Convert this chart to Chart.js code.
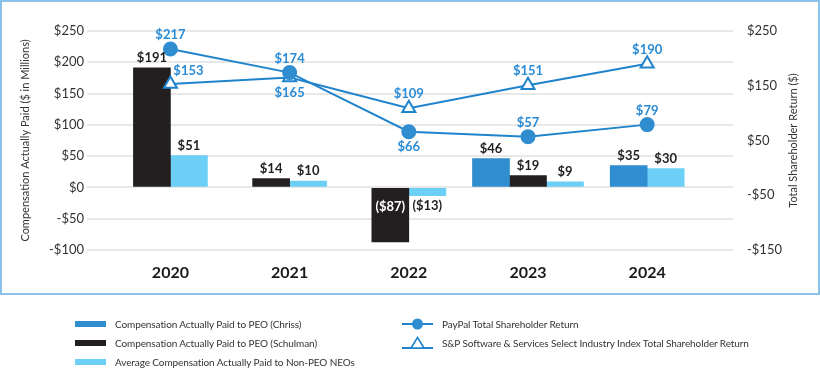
<!DOCTYPE html>
<html>
<head>
<meta charset="utf-8">
<script src="https://cdn.jsdelivr.net/npm/chart.js@4.4.1/dist/chart.umd.min.js"></script>
<style>
  body { margin: 0; background: #fff; font-family: Lato, sans-serif; }
  #wrap { position: relative; width: 820px; height: 370px; }
  #box { position: absolute; left: 0; top: 0; width: 816px; height: 291px; border: 2px solid #8ac2ea; }
  #legend { position: absolute; left: 0; top: 0; width: 820px; height: 370px; pointer-events: none; }
  .item { position: absolute; display: flex; align-items: center; font-size: 10px; letter-spacing: -0.1px; color: #333; white-space: nowrap; height: 14px; }
  .item svg { margin-right: 9px; }
</style>
</head>
<body>
<div id="wrap">
  <div id="box"><canvas id="chart" width="816" height="291"></canvas></div>
  <div id="legend"></div>
</div>
<script>
const years = ["2020", "2021", "2022", "2023", "2024"];
const capChriss = [null, null, null, 46, 35];
const capSchulman = [191, 14, -87, 19, null];
const capNonPeo = [51, 10, -13, 9, 30];
const tsrPaypal = [217, 174, 66, 57, 79];
const tsrIndex = [153, 165, 109, 151, 190];
const leftTicks = [-100, 250, 50];   // min, max, step
const rightTicks = [-150, 250, 100];

const blue = "#2f8dd0";
const black = "#231f20";
const light = "#6ccff5";
const lineBlue = "#1f84cc";
const labelBlue = "#2a8cd6";

const pts = arr => arr.map((v, i) => ({ x: i, y: v }));

const money = v => v < 0 ? `($${-v})` : `$${v}`;

const valueLabels = {
  id: "valueLabels",
  afterDatasetsDraw(chart) {
    const ctx = chart.ctx;
    ctx.save();
    ctx.textAlign = "center";
    ctx.textBaseline = "middle";
    chart.data.datasets.forEach((ds, di) => {
      const meta = chart.getDatasetMeta(di);
      meta.data.forEach((el, i) => {
        const v = ds.data[i].y;
        if (v === null || v === undefined) return;
        if (ds.type === "line") {
          ctx.font = "bold 13px Lato";
          ctx.fillStyle = labelBlue;
          const pos = ds.labelPos[i];
          let dx = 0, dy = -14;
          if (pos === "bottom") dy = 15;
          if (pos === "topRight") { dx = 18; dy = -13; }
          ctx.fillText(money(v), el.x + dx, el.y + dy);
        } else {
          ctx.font = "bold 13px Lato";
          if (v >= 0) {
            ctx.fillStyle = black;
            ctx.fillText(money(v), el.x, el.y - 10);
          } else if (Math.abs(el.y - el.base) > 30) {
            ctx.fillStyle = "#fff";
            ctx.fillText(money(v), el.x, el.base + 18);
          } else {
            ctx.fillStyle = black;
            ctx.fillText(money(v), el.x, el.y + 10);
          }
        }
      });
    });
    ctx.restore();
  },
  afterDraw(chart) {
    // right axis title reads bottom-to-top like the left one
    const ctx = chart.ctx;
    const s = chart.scales.y2;
    ctx.save();
    ctx.translate(791, (s.top + s.bottom) / 2);
    ctx.rotate(-Math.PI / 2);
    ctx.font = "11px Lato";
    ctx.fillStyle = "#333";
    ctx.textAlign = "center";
    ctx.textBaseline = "middle";
    ctx.fillText("Total Shareholder Return ($)", 0, 0);
    ctx.restore();
  }
};

const chart = new Chart(document.getElementById("chart"), {
  type: "bar",
  data: {
    datasets: [
      {
        type: "line", label: "PayPal Total Shareholder Return", data: pts(tsrPaypal),
        yAxisID: "y2", borderColor: lineBlue, borderWidth: 2, pointStyle: "circle",
        pointRadius: 6.5, pointBackgroundColor: blue, pointBorderColor: blue,
        order: 0, labelPos: ["top", "top", "bottom", "top", "top"]
      },
      {
        type: "line", label: "S&P Software & Services Select Industry Index Total Shareholder Return", data: pts(tsrIndex),
        yAxisID: "y2", borderColor: lineBlue, borderWidth: 2, pointStyle: "triangle",
        pointRadius: 7.5, pointBackgroundColor: "#fff", pointBorderColor: lineBlue, pointBorderWidth: 2,
        order: 0, labelPos: ["topRight", "bottom", "top", "top", "top"]
      },
      { label: "Compensation Actually Paid to PEO (Chriss)", data: pts(capChriss), backgroundColor: blue, order: 1 },
      { label: "Compensation Actually Paid to PEO (Schulman)", data: pts(capSchulman), backgroundColor: black, order: 1 },
      { label: "Average Compensation Actually Paid to Non-PEO NEOs", data: pts(capNonPeo), backgroundColor: light, order: 1 }
    ]
  },
  options: {
    responsive: false,
    animation: false,
    skipNull: true,
    barThickness: 37,
    layout: { padding: { top: 29, left: 0, right: 0, bottom: 0 } },
    plugins: { legend: { display: false }, tooltip: { enabled: false } },
    scales: {
      x: {
        type: "linear",
        offset: false,
        min: -0.7,
        max: 4.72,
        afterBuildTicks: s => { s.ticks = years.map((_, i) => ({ value: i })); },
        afterFit: s => { s.height = 43; },
        grid: { display: false, drawTicks: false },
        border: { display: false },
        ticks: {
          padding: 13,
          color: "#1a1a1a",
          font: { family: "Lato", size: 16, weight: "bold" },
          callback: v => years[v]
        }
      },
      y: {
        position: "left",
        min: leftTicks[0],
        max: leftTicks[1],
        afterFit: s => { s.width = 85; },
        grid: { color: "#e8e8e8", lineWidth: 2, drawTicks: false },
        border: { display: false },
        ticks: {
          stepSize: leftTicks[2],
          padding: 3,
          color: "#333",
          font: { family: "Lato", size: 13 },
          callback: v => v < 0 ? `-$${-v}` : `$${v}`
        },
        title: {
          display: true,
          text: "Compensation Actually Paid ($ in Millions)",
          color: "#333",
          font: { family: "Lato", size: 11 },
          padding: { top: 17, bottom: 0 }
        }
      },
      y2: {
        position: "right",
        min: rightTicks[0],
        max: rightTicks[1],
        afterFit: s => { s.width = 85; },
        grid: { display: false, drawTicks: false },
        border: { display: false },
        ticks: {
          stepSize: rightTicks[2],
          padding: 14,
          color: "#333",
          font: { family: "Lato", size: 13 },
          callback: v => v < 0 ? `-$${-v}` : `$${v}`
        }
      }
    }
  },
  plugins: [valueLabels]
});

// html legend, two columns under the framed chart
const legendSpots = [
  { di: 2, left: 75, top: 324 },
  { di: 3, left: 75, top: 343 },
  { di: 4, left: 75, top: 362 },
  { di: 0, left: 402, top: 324 },
  { di: 1, left: 402, top: 343 }
];
const legend = document.getElementById("legend");
legendSpots.forEach(spot => {
  const ds = chart.data.datasets[spot.di];
  let icon;
  if (ds.type === "line") {
    const mark = ds.pointStyle === "circle"
      ? `<circle cx="15.5" cy="7" r="5.5" fill="${blue}"/>`
      : `<polygon points="15.5,1.5 22,12 9,12" fill="#fff" stroke="${lineBlue}" stroke-width="1.6"/>`;
    const y = ds.pointStyle === "circle" ? 7 : 12;
    icon = `<svg width="31" height="14"><line x1="0" y1="${y}" x2="31" y2="${y}" stroke="${lineBlue}" stroke-width="2"/>${mark}</svg>`;
  } else {
    icon = `<svg width="31" height="14"><rect x="0" y="4" width="31" height="6" fill="${ds.backgroundColor}"/></svg>`;
  }
  const div = document.createElement("div");
  div.className = "item";
  div.style.left = spot.left + "px";
  div.style.top = (spot.top - 7) + "px";
  div.innerHTML = icon + `<span>${ds.label.replace(/&/g, "&amp;")}</span>`;
  legend.appendChild(div);
});
</script>
</body>
</html>
